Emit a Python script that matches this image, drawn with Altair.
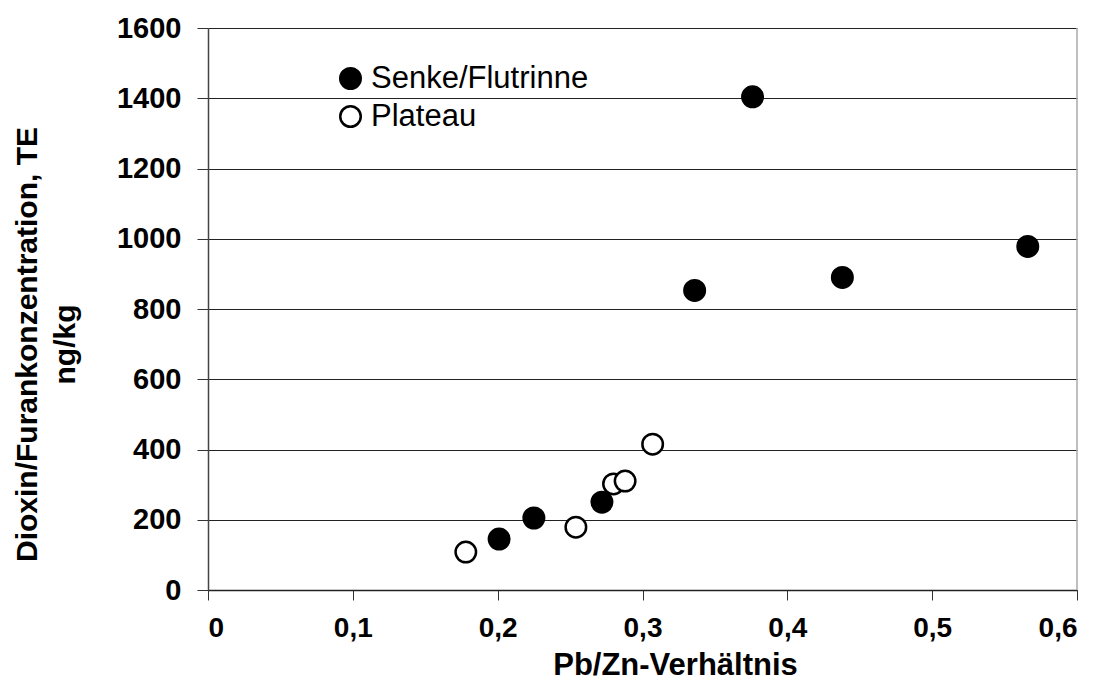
import altair as alt
import pandas as pd

# Data
senke_x = [0.201, 0.225, 0.272, 0.336, 0.376, 0.438, 0.566]
senke_y = [145, 205, 250, 853, 1404, 890, 978]
plateau_x = [0.178, 0.254, 0.280, 0.288, 0.307]
plateau_y = [108, 179, 302, 310, 415]

x_ticks = [0, 0.1, 0.2, 0.3, 0.4, 0.5, 0.6]
y_ticks = [0, 200, 400, 600, 800, 1000, 1200, 1400, 1600]

groups = ["Senke/Flutrinne", "Plateau"]

df = pd.DataFrame(
    {
        "x": senke_x + plateau_x,
        "y": senke_y + plateau_y,
        "g": [groups[0]] * len(senke_x) + [groups[1]] * len(plateau_x),
    }
)

FONT = "Liberation Sans"

xscale = alt.Scale(domain=[0, 0.6], nice=False, zero=True)
yscale = alt.Scale(domain=[0, 1600], nice=False)

points = (
    alt.Chart(df)
    .mark_point(shape="circle", filled=False, size=420, strokeWidth=2.5, stroke="black", opacity=1)
    .encode(
        x=alt.X(
            "x:Q",
            scale=xscale,
            axis=alt.Axis(
                values=x_ticks,
                labelExpr="replace(format(datum.value, '.1~f'), '.', ',')",
                grid=False,
                title="Pb/Zn-Verhältnis",
                titleX=467,
                titleFontSize=31,
                labelFontSize=28,
                tickSize=10,
                tickColor="#333333",
                domainColor="#222222",
                domainWidth=1.5,
                labelPadding=14,
                titlePadding=8,
            ),
        ),
        y=alt.Y(
            "y:Q",
            scale=yscale,
            axis=alt.Axis(
                values=y_ticks,
                format="d",
                grid=True,
                gridColor="#222222",
                gridWidth=1.2,
                title=["Dioxin/Furankonzentration, TE", "ng/kg"],
                titleFontSize=30,
                titleLineHeight=38,
                titleY=316,
                labelFontSize=29,
                tickSize=11,
                tickColor="#333333",
                domainColor="#444444",
                domainWidth=1.5,
                labelPadding=16,
                titlePadding=36,
            ),
        ),
        fill=alt.Fill(
            "g:N",
            scale=alt.Scale(domain=groups, range=["black", "white"]),
            legend=alt.Legend(
                title=None,
                orient="none",
                legendX=127,
                legendY=35,
                symbolType="circle",
                symbolSize=420,
                symbolStrokeColor="black",
                symbolStrokeWidth=2.5,
                labelFontSize=31,
                labelFont=FONT,
                labelColor="black",
                labelLimit=0,
                labelOffset=5,
                rowPadding=6,
                padding=0,
            ),
        ),
    )
)

right_border = (
    alt.Chart(pd.DataFrame({"x": [0.6]}))
    .mark_rule(color="#aaaaaa", strokeWidth=1.5)
    .encode(x=alt.X("x:Q", scale=xscale))
)

chart = (
    alt.layer(right_border, points)
    .properties(width=869, height=562, autosize=alt.AutoSizeParams(type="none"), padding={"left": 200, "top": 20, "right": 15, "bottom": 94})
    .configure_view(stroke=None)
    .configure_axis(
        labelFont=FONT,
        titleFont=FONT,
        labelFontWeight="bold",
        titleFontWeight="bold",
        labelColor="black",
        titleColor="black",
    )
)

chart.save("out.html", embed_options={"renderer": "svg", "actions": False})
